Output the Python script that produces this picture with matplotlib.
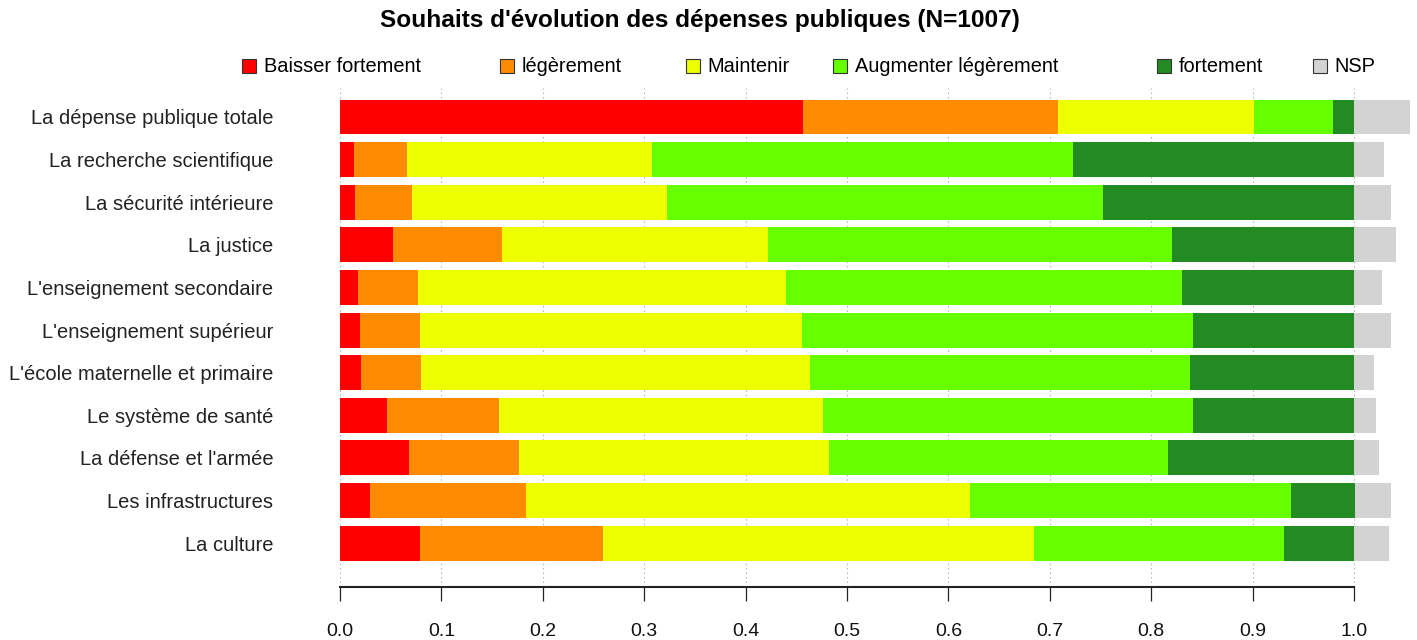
import matplotlib
matplotlib.use("Agg")
import matplotlib.pyplot as plt
from matplotlib.patches import Patch
import numpy as np

plt.rcParams['font.family'] = ['Liberation Sans', 'DejaVu Sans']

title = "Souhaits d'évolution des dépenses publiques (N=1007)"
categories = [
    "La dépense publique totale",
    "La recherche scientifique",
    "La sécurité intérieure",
    "La justice",
    "L'enseignement secondaire",
    "L'enseignement supérieur",
    "L'école maternelle et primaire",
    "Le système de santé",
    "La défense et l'armée",
    "Les infrastructures",
    "La culture",
]
series_labels = ["Baisser fortement", "légèrement", "Maintenir",
                 "Augmenter légèrement", "fortement", "NSP"]
baisser_fortement = [0.457, 0.0135, 0.015, 0.052, 0.018, 0.020, 0.021, 0.046, 0.0685, 0.030, 0.079]
baisser_legerement = [0.251, 0.0525, 0.056, 0.108, 0.059, 0.059, 0.059, 0.1105, 0.108, 0.153, 0.180]
maintenir = [0.193, 0.242, 0.251, 0.262, 0.363, 0.377, 0.3835, 0.3195, 0.3055, 0.4385, 0.425]
augmenter_legerement = [0.078, 0.415, 0.430, 0.399, 0.390, 0.385, 0.375, 0.365, 0.335, 0.3165, 0.247]
augmenter_fortement = [0.021, 0.277, 0.248, 0.179, 0.170, 0.159, 0.1615, 0.159, 0.183, 0.0625, 0.069]
nsp = [0.055, 0.030, 0.036, 0.041, 0.028, 0.036, 0.020, 0.022, 0.025, 0.036, 0.035]
x_ticks = [0.0, 0.1, 0.2, 0.3, 0.4, 0.5, 0.6, 0.7, 0.8, 0.9, 1.0]

colors = ["#FF0000", "#FF8C00", "#EEFF00", "#66FF00", "#228B22", "#D3D3D3"]
series = [baisser_fortement, baisser_legerement, maintenir,
          augmenter_legerement, augmenter_fortement, nsp]

W, H = 1417, 640
fig = plt.figure(figsize=(W / 100, H / 100), dpi=100)
x0_px, unit_px = 340, 1014
xmax = 1.06
ax_bottom_px, ax_top_px = 587, 88
ax = fig.add_axes([x0_px / W, 1 - ax_bottom_px / H,
                   xmax * unit_px / W, (ax_bottom_px - ax_top_px) / H])

n = len(categories)
ypos = np.arange(n)[::-1]
left = np.zeros(n)
for vals, col, lab in zip(series, colors, series_labels):
    v = np.array(vals)
    ax.barh(ypos, v, left=left, height=0.82, color=col, edgecolor='none',
            label=lab, zorder=2)
    left = left + v

ax.set_xlim(0, xmax)
ax.set_ylim(-1.03, n - 1 + 0.68)
ax.set_yticks(ypos)
ax.set_yticklabels(categories, fontsize=14.5, color='#222222')
ax.tick_params(axis='y', length=0, pad=48)
ax.set_xticks(x_ticks)
ax.set_xticklabels([f"{t:.1f}" for t in x_ticks], fontsize=14, color='#111111')
ax.tick_params(axis='x', direction='out', length=10, width=0.9, pad=16, color='#222222')

for s in ['top', 'right', 'left']:
    ax.spines[s].set_visible(False)
ax.spines['bottom'].set_bounds(0, 1)
ax.spines['bottom'].set_linewidth(1.5)
ax.spines['bottom'].set_color('#222222')

for t in x_ticks:
    ax.axvline(t, color='#BBBBBB', linestyle=(0, (1.5, 2.5)), linewidth=0.8, zorder=0)

fig.text(699.5 / W, 1 - 20 / H, title, ha='center', va='center',
         fontsize=17.6, fontweight='bold')

legend_x_px = [242, 500, 686, 833, 1157, 1313]
for lab, col, xp in zip(series_labels, colors, legend_x_px):
    h = Patch(facecolor=col, edgecolor='#333333', linewidth=0.8)
    fig.legend(handles=[h], labels=[lab], loc='center left',
               bbox_to_anchor=(xp / W, 1 - 67 / H), frameon=False,
               fontsize=14.4, borderpad=0, borderaxespad=0,
               handlelength=0.7, handleheight=0.7, handletextpad=0.38)

fig.savefig("out.png", dpi=100)
